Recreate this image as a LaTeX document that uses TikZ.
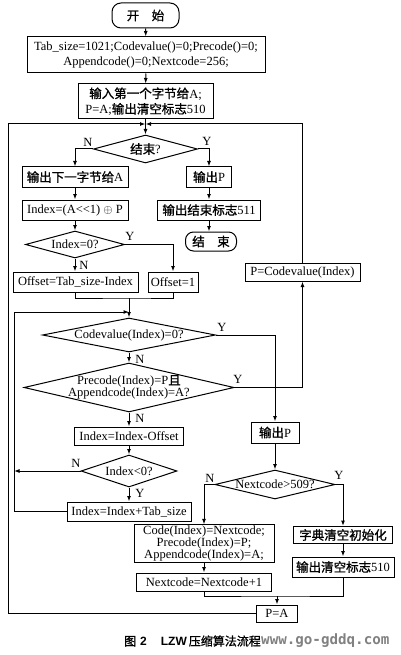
\documentclass[tikz,border=0pt]{standalone}
\usepackage{fontspec}
\setmainfont{Liberation Serif}
\setsansfont{Liberation Sans}
\newfontfamily\cjk{Noto Sans CJK SC}[AutoFakeBold=1.2]
\newfontfamily\wmfont{DejaVu Sans Mono}
\newcommand\zh[1]{{\cjk\bfseries #1}}
\usetikzlibrary{shapes.geometric,arrows.meta}
\tikzset{
  box/.style={draw, line width=1pt, inner sep=1pt, align=center, font=\fontsize{12.5}{13}\selectfont},
  dia/.style={draw, line width=1pt, shape=diamond, inner sep=0pt, font=\fontsize{12.5}{13}\selectfont},
  ln/.style={line width=1pt},
  arr/.style={line width=1pt, -{Latex[length=5.5pt,width=4pt]}},
  lbl/.style={font=\fontsize{12.5}{13}\selectfont, inner sep=0pt}
}
\begin{document}
\begin{tikzpicture}[x=1pt,y=-1pt]
\useasboundingbox (0,0) rectangle (400,655);
% nodes
\node[box, minimum width=67, minimum height=25, rounded corners=9pt] (start) at (145.5,15.5) {\zh{开\quad 始}};
\node[box, minimum width=238, minimum height=36, font=\fontsize{12.5}{15}\selectfont] (init) at (146,55) {Tab\_size=1021;Codevalue()=0;Precode()=0;\\Appendcode()=0;Nextcode=256;};
\node[box, minimum width=135, minimum height=35, font=\fontsize{12.5}{15.5}\selectfont] (in1) at (145.5,101.5) {\zh{输入第一个字节给}A;\\P=A;\zh{输出清空标志}510};
\coordinate (m) at (145.5,124);
\node[dia, minimum width=104, minimum height=28] (endq) at (145.5,149) {\makebox[0pt]{\zh{结束}?}};
\node[lbl] at (88,142) {N};
\node[lbl] at (207,141) {Y};
\node[box, minimum width=106, minimum height=20] (outA) at (75,177) {\zh{输出下一字节给}A};
\node[box, minimum width=45, minimum height=20] (outP1) at (209,177) {\zh{输出}P};
\node[box, minimum width=106, minimum height=20] (idx) at (75,210) {Index=(A<{}<1) $\oplus$ P};
\node[box, minimum width=103, minimum height=20] (out511) at (209,210) {\zh{输出结束标志}511};
\node[box, minimum width=51, minimum height=19, rounded corners=8pt] (fin) at (211,241.5) {\zh{结\quad 束}};
\node[dia, minimum width=99, minimum height=27] (idx0) at (75,244.5) {\makebox[0pt]{Index=0?}};
\node[lbl] at (130,236) {Y};
\node[lbl] at (84,265) {N};
\node[box, minimum width=125, minimum height=20] (off1) at (75.5,282) {Offset=Tab\_size-Index};
\node[box, minimum width=50, minimum height=20] (off2) at (173,282) {Offset=1};
\node[box, minimum width=115, minimum height=18] (pcv) at (302.5,272) {P=Codevalue(Index)};
\coordinate (j1) at (129,298);
\coordinate (k1) at (129,312);
\coordinate (il) at (14,312);
\node[dia, minimum width=173, minimum height=34] (cv) at (129,335) {\makebox[0pt]{Codevalue(Index)=0?}};
\node[lbl] at (222,327) {Y};
\node[lbl] at (140,359) {N};
\node[dia, minimum width=210, minimum height=49, font=\fontsize{12.5}{12}\selectfont] (pre) at (129,387.5) {\makebox[0pt]{\begin{tabular}{@{}c@{}}Precode(Index)=P\zh{且}\\[-1pt]Appendcode(Index)=A?\end{tabular}}};
\node[lbl] at (238,379) {Y};
\node[lbl] at (140,418) {N};
\node[box, minimum width=109, minimum height=18] (iom) at (129,436) {Index=Index-Offset};
\node[box, minimum width=48, minimum height=21] (outP2) at (275,432.5) {\zh{输出}P};
\node[dia, minimum width=96, minimum height=32] (ilt) at (129,471) {\makebox[0pt]{Index<0?}};
\node[lbl] at (76,463) {N};
\node[lbl] at (140,493) {Y};
\node[box, minimum width=124, minimum height=19] (ipt) at (129,511.5) {Index=Index+Tab\_size};
\node[dia, minimum width=120, minimum height=29] (nc) at (275,484.5) {\makebox[0pt]{Nextcode>509?}};
\node[lbl] at (210,478) {N};
\node[lbl] at (339,475) {Y};
\node[box, minimum width=140, minimum height=37, font=\fontsize{12.5}{12}\selectfont] (code) at (204,543.5) {Code(Index)=Nextcode;\\Precode(Index)=P;\\Appendcode(Index)=A;};
\node[box, minimum width=99, minimum height=17] (dict) at (343,535) {\zh{字典清空初始化}};
\node[box, minimum width=102, minimum height=20] (out510) at (343,567) {\zh{输出清空标志}510};
\node[box, minimum width=135, minimum height=18] (ncp) at (204,582) {Nextcode=Nextcode+1};
\coordinate (j2) at (277,596);
\node[box, minimum width=41, minimum height=17] (PA) at (277,613.5) {P=A};
\coordinate (ol) at (8,124);
% connectors
\draw[arr] (start) -- (init);
\draw[arr] (init) -- (in1);
\draw[ln] (in1.south) -- (m);
\draw[arr] (m) -- (endq.north);
\draw[arr] (endq.west) -| (outA.north);
\draw[arr] (endq.east) -| (outP1.north);
\draw[arr] (outA) -- (idx);
\draw[arr] (outP1) -- (out511);
\draw[arr] (out511.south) -- (out511.south |- fin.north);
\draw[arr] (idx) -- (idx0);
\draw[arr] (idx0.east) -| (off2.north);
\draw[arr] (idx0.south) -- (off1.north -| idx0.south);
\draw[ln] (off1.south) |- (j1) -| (off2.south);
\draw[arr] (j1) -- (cv.north);
\draw[arr] (ipt.west) -| (il) -- (k1);
\draw[arr] (ilt.west) -- (ilt.west -| il);
\draw[arr] (cv.east) -| (outP2.north);
\draw[arr] (cv.south) -- (pre.north);
\draw[arr] (pre.east) -| (pcv.south);
\draw[arr] (pre.south) -- (iom.north);
\draw[arr] (iom.south) -- (ilt.north);
\draw[arr] (ilt.south) -- (ipt.north);
\draw[arr] (pcv.north) |- (m);
\draw[arr] (PA.west) -| (ol) -- (m);
\draw[arr] (outP2.south) -- (nc.north);
\draw[arr] (nc.west) -| (code.north);
\draw[arr] (nc.east) -| (dict.north);
\draw[arr] (dict.south) -- (out510.north);
\draw[arr] (code.south) -- (ncp.north);
\draw[ln] (ncp.south) |- (j2) -| (out510.south);
\draw[arr] (j2) -- (PA.north);
% caption
\node[anchor=west, inner sep=0pt, font=\fontsize{12}{12}\selectfont] (cap) at (124,641) {{\cjk\bfseries 图}\hspace{4pt}{\sffamily\bfseries 2}\hspace{14pt}{\sffamily\bfseries LZW}\hspace{2pt}{\cjk\bfseries 压缩算法流程}};
\node[anchor=west, inner sep=0pt, text=black!55, opacity=0.9, font=\fontsize{14.2}{14}\selectfont\wmfont\bfseries] (wm) at (261,641) {www.go-gddq.com};
\end{tikzpicture}
\end{document}
